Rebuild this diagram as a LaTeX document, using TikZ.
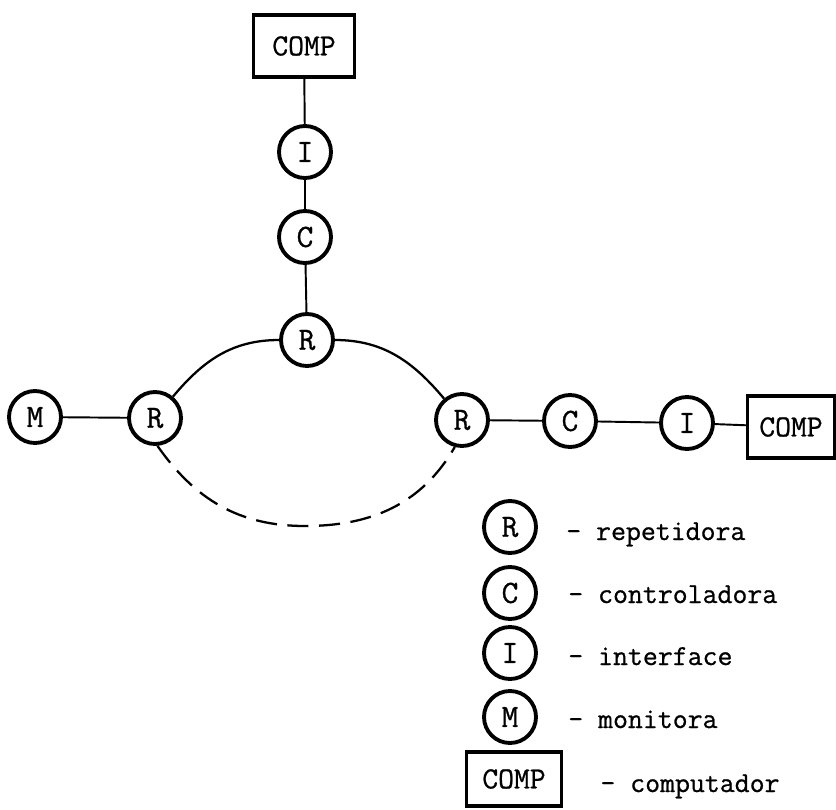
\documentclass[tikz,border=0pt]{standalone}
\usepackage{fontspec}
\setmonofont[FakeBold=0.8]{Latin Modern Mono}
\usetikzlibrary{positioning}

\begin{document}
\begin{tikzpicture}[
    x=0.02cm, y=-0.02cm,
    unit/.style={circle, draw, line width=2.2pt, minimum size=1.04cm, inner sep=0pt, font=\ttfamily\fontsize{18.5}{18.5}\selectfont},
    keyunit/.style={unit, minimum size=1.04cm},
    compbox/.style={rectangle, draw, line width=1.8pt, minimum width=2.02cm, minimum height=1.24cm, inner sep=0pt, font=\ttfamily\fontsize{17.5}{17.5}\selectfont},
    keytext/.style={inner sep=0pt, font=\ttfamily\fontsize{16.5}{16.5}\selectfont},
    link/.style={line width=1.1pt},
    ring/.style={line width=1.3pt}
]
    \useasboundingbox (0,0) rectangle (836,809);

    % ramo vertical
    \node [compbox] (comptop) at (304,46) {COMP};
    \node [unit] (itop) at (305,152) {I};
    \node [unit] (ctop) at (305,237) {C};
    \node [unit] (rtop) at (307,340) {R};

    % anel e ramo horizontal
    \node [unit] (mon) at (35,417) {M};
    \node [unit] (rleft) at (155,418) {R};
    \node [unit] (rright) at (462,420) {R};
    \node [unit] (cright) at (570,421) {C};
    \node [unit] (iright) at (687,423) {I};
    \node [compbox, minimum width=1.74cm] (compright) at (791,427) {COMP};
    \coordinate (ringlow) at (305,526);

    \draw [link] (comptop) -- (itop);
    \draw [link] (itop) -- (ctop);
    \draw [link] (ctop) -- (rtop);
    \draw [link] (mon) -- (rleft);
    \draw [link] (rright) -- (cright);
    \draw [link] (cright) -- (iright);
    \draw [link] (iright) -- (compright);

    \draw [ring] (rleft) to[out=50, in=180] (rtop);
    \draw [ring] (rtop) to[out=0, in=130] (rright);
    \draw [ring, dash pattern=on 12pt off 6pt] (rleft.-85) to[out=-55, in=180] (ringlow) to[out=0, in=-120] (rright.-105);

    % legenda
    \node [keyunit] (keyr) at (510,527) {R};
    \node [keyunit] (keyc) at (510,593) {C};
    \node [keyunit] (keyi) at (510,653) {I};
    \node [keyunit] (keym) at (510,717) {M};
    \node [compbox, minimum width=1.9cm, minimum height=1.08cm] (keycomp) at (514,779) {COMP};

    \node [keytext, right=0.56cm of keyr, anchor=base west, yshift=-0.26cm] (txtr) {- repetidora};
    \node [keytext, right=0.6cm of keyc, anchor=base west, yshift=-0.2cm] (txtc) {- controladora};
    \node [keytext, right=0.6cm of keyi, anchor=base west, yshift=-0.24cm] (txti) {- interface};
    \node [keytext, right=0.6cm of keym, anchor=base west, yshift=-0.22cm] (txtm) {- monitora};
    \node [keytext, right=0.74cm of keycomp, anchor=base west, yshift=-0.26cm] (txtcomp) {- computador};
\end{tikzpicture}
\end{document}
